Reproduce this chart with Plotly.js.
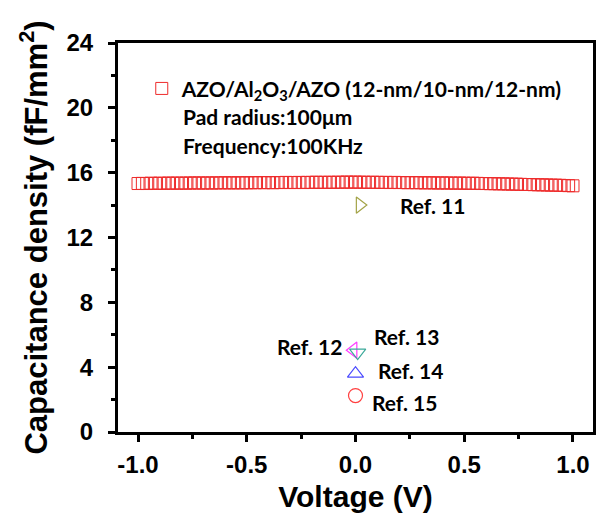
<!DOCTYPE html>
<html>
<head>
<meta charset="utf-8">
<script src="https://cdn.plot.ly/plotly-3.0.1.min.js"></script>
<style>html,body{margin:0;padding:0;background:#fff;}#chart{width:600px;height:522px;}</style>
</head>
<body>
<div id="chart"></div>
<script>
// ---- data ----
const voltage = [-1.00,-0.98,-0.96,-0.94,-0.92,-0.90,-0.88,-0.86,-0.84,-0.82,-0.80,-0.78,-0.76,-0.74,-0.72,-0.70,-0.68,-0.66,-0.64,-0.62,-0.60,-0.58,-0.56,-0.54,-0.52,-0.50,
 -0.48,-0.46,-0.44,-0.42,-0.40,-0.38,-0.36,-0.34,-0.32,-0.30,-0.28,-0.26,-0.24,-0.22,-0.20,-0.18,-0.16,-0.14,-0.12,-0.10,-0.08,-0.06,-0.04,-0.02,0.00,
 0.02,0.04,0.06,0.08,0.10,0.12,0.14,0.16,0.18,0.20,0.22,0.24,0.26,0.28,0.30,0.32,0.34,0.36,0.38,0.40,0.42,0.44,0.46,0.48,0.50,
 0.52,0.54,0.56,0.58,0.60,0.62,0.64,0.66,0.68,0.70,0.72,0.74,0.76,0.78,0.80,0.82,0.84,0.86,0.88,0.90,0.92,0.94,0.96,0.98,1.00];
const capacitance = [15.33,15.34,15.33,15.35,15.34,15.35,15.34,15.36,15.35,15.35,15.36,15.35,15.36,15.37,15.36,15.36,15.37,15.36,15.37,15.37,15.38,15.37,15.37,15.38,15.37,15.38,
 15.38,15.38,15.39,15.38,15.39,15.38,15.39,15.39,15.40,15.39,15.39,15.40,15.39,15.40,15.40,15.41,15.40,15.40,15.41,15.40,15.41,15.41,15.42,15.41,15.42,
 15.41,15.41,15.40,15.41,15.40,15.40,15.40,15.39,15.40,15.39,15.39,15.38,15.39,15.38,15.38,15.37,15.38,15.37,15.36,15.37,15.36,15.36,15.35,15.36,15.35,
 15.34,15.35,15.34,15.33,15.33,15.32,15.32,15.31,15.31,15.30,15.29,15.29,15.28,15.27,15.27,15.26,15.25,15.25,15.24,15.23,15.23,15.22,15.21,15.20,15.19];
const seriesName = 'AZO/Al<sub>2</sub>O<sub>3</sub>/AZO (12-nm/10-nm/12-nm)';
const infoLines = ['Pad radius:100\u03bcm', 'Frequency:100KHz'];

const refNames = ['Ref. 11','Ref. 12','Ref. 13','Ref. 14','Ref. 15'];
const refVoltage = [0.02, -0.01, 0.01, 0.00, 0.00];
const refCap = [14.0, 5.05, 4.9, 3.6, 2.25];
const refSymbols = ['triangle-right-open','triangle-left-open','triangle-down-open','triangle-up-open','circle-open'];
const refColors = ['#a3a347','#ff3dff','#3ba99a','#4a4aff','#ff4040'];
const refLabelPos = [[0.195,14.0,'left'],[-0.055,5.25,'right'],[0.075,5.9,'left'],[0.095,3.8,'left'],[0.068,1.85,'left']];

const xTickVals = [-1.0,-0.5,0.0,0.5,1.0];
const xTickText = ['-1.0','-0.5','0.0','0.5','1.0'];
const yTickVals = [0,4,8,12,16,20,24];

// ---- traces ----
const annFont = {family:'Lato, "Open Sans", sans-serif', size:21, color:'#000', weight:'bold'};
const traces = [{
  x: voltage, y: capacitance, type:'scatter', mode:'markers', name: seriesName,
  marker:{symbol:'square-open', size:12, color:'#ee2b2b', line:{width:1}},
  showlegend:true, cliponaxis:false
}];
refNames.forEach((n,i)=>{
  traces.push({x:[refVoltage[i]], y:[refCap[i]], type:'scatter', mode:'markers', name:n,
    marker:{symbol:refSymbols[i], size:14, color:refColors[i], line:{width:1.2}}, showlegend:false});
});

const annotations = [];
infoLines.forEach((t,i)=>{
  annotations.push({xref:'paper', yref:'paper', x:0.133, y:0.81 - i*0.073, xanchor:'left', yanchor:'middle',
    text:t, showarrow:false, font:annFont});
});
refNames.forEach((n,i)=>{
  annotations.push({x:refLabelPos[i][0], y:refLabelPos[i][1], xanchor:refLabelPos[i][2], yanchor:'middle',
    text:n, showarrow:false, font:annFont});
});

const axisFont = {family:'"Liberation Sans", Arial, sans-serif', size:24, color:'#000', weight:'bold'};
const titleFont = {family:'"Liberation Sans", Arial, sans-serif', size:30, color:'#000', weight:'bold'};

const layout = {
  width:600, height:522,
  margin:{l:118, r:7, t:43, b:90},
  paper_bgcolor:'#fff', plot_bgcolor:'#fff',
  showlegend:true,
  legend:{x:0.05, y:0.935, xanchor:'left', yanchor:'top', font:annFont, bgcolor:'rgba(0,0,0,0)', borderwidth:0},
  xaxis:{range:[-1.092,1.092], tickvals:xTickVals, ticktext:xTickText, ticks:'outside', ticklen:7, tickwidth:3,
    tickcolor:'#000', showline:true, linewidth:3, linecolor:'#000', mirror:true, showgrid:false, zeroline:false,
    tickfont:axisFont, ticklabelstandoff:2,
    minor:{dtick:0.25, tick0:0, ticks:'outside', ticklen:4, tickwidth:3, tickcolor:'#000', showgrid:false},
    title:{text:'Voltage (V)', font:titleFont, standoff:10}},
  yaxis:{range:[0,24], tickvals:yTickVals, ticks:'outside', ticklen:7, tickwidth:3, tickcolor:'#000',
    showline:true, linewidth:3, linecolor:'#000', mirror:true, showgrid:false, zeroline:false,
    tickfont:axisFont, ticklabelstandoff:10,
    minor:{dtick:2, tick0:0, ticks:'outside', ticklen:4, tickwidth:3, tickcolor:'#000', showgrid:false},
    title:{text:'Capacitance density (fF/mm<sup>2</sup>)', font:{...titleFont, size:31}, standoff:10}},
  annotations: annotations
};
Plotly.newPlot('chart', traces, layout, {displayModeBar:false, staticPlot:true});
</script>
</body>
</html>
